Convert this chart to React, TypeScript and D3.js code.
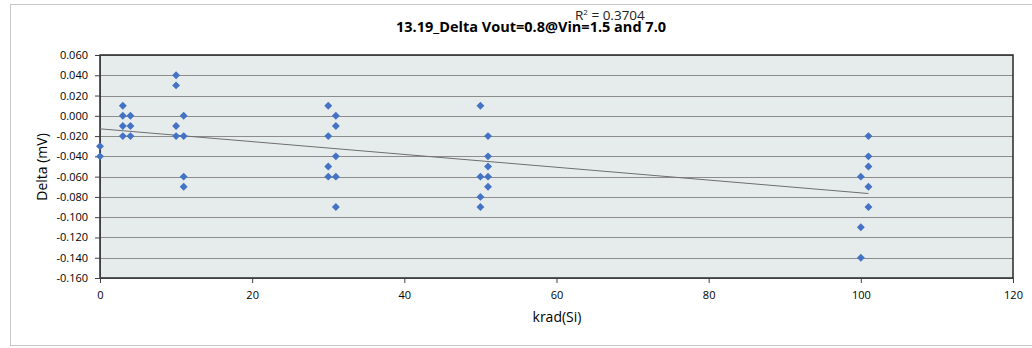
import React, { useEffect, useRef } from "react";
import * as d3 from "d3";

// krad(Si) dose levels and measured deltas (mV), one entry per sample
const doseX: number[] = [
  0, 0,
  3, 3, 3, 3,
  4, 4, 4,
  10, 10, 10, 10,
  11, 11, 11, 11,
  30, 30, 30, 30,
  31, 31, 31, 31, 31,
  50, 50, 50, 50,
  51, 51, 51, 51, 51,
  100, 100, 100,
  101, 101, 101, 101, 101,
];
const deltaY: number[] = [
  -0.03, -0.04,
  0.01, 0.0, -0.01, -0.02,
  0.0, -0.01, -0.02,
  0.04, 0.03, -0.01, -0.02,
  0.0, -0.02, -0.06, -0.07,
  0.01, -0.02, -0.05, -0.06,
  0.0, -0.01, -0.04, -0.06, -0.09,
  0.01, -0.06, -0.08, -0.09,
  -0.02, -0.04, -0.05, -0.06, -0.07,
  -0.06, -0.11, -0.14,
  -0.02, -0.04, -0.05, -0.07, -0.09,
];
const xTicks: number[] = [0, 20, 40, 60, 80, 100, 120];
const yTicks: number[] = [0.06, 0.04, 0.02, 0, -0.02, -0.04, -0.06, -0.08, -0.1, -0.12, -0.14, -0.16];

const title = "13.19_Delta Vout=0.8@Vin=1.5 and 7.0";
const rSquared = "0.3704";

const ScatterChart: React.FC = () => {
  const svgRef = useRef<SVGSVGElement | null>(null);

  useEffect(() => {
    const svg = d3.select(svgRef.current);
    const width = 1032;
    const height = 348;
    const margin = { top: 55, right: 19, bottom: 70, left: 100 };
    const font = "'Open Sans', 'Liberation Sans', sans-serif";

    svg.selectAll("*").remove();

    // outer chart frame
    svg
      .append("rect")
      .attr("x", 10.5)
      .attr("y", 4.5)
      .attr("width", 1040)
      .attr("height", 341)
      .attr("fill", "white")
      .attr("stroke", "#c8c8c8");

    const xScale = d3
      .scaleLinear()
      .domain([0, 120])
      .range([margin.left, width - margin.right]);

    const yScale = d3
      .scaleLinear()
      .domain([-0.16, 0.06])
      .range([height - margin.bottom, margin.top]);

    // plot background
    svg
      .append("rect")
      .attr("x", margin.left)
      .attr("y", margin.top)
      .attr("width", xScale(120) - margin.left)
      .attr("height", yScale(-0.16) - margin.top)
      .attr("fill", "#e6ecec");

    // gridlines
    svg
      .selectAll("line.grid")
      .data(yTicks)
      .join("line")
      .attr("class", "grid")
      .attr("x1", margin.left)
      .attr("x2", xScale(120))
      .attr("y1", (d) => Math.round(yScale(d)) + 0.5)
      .attr("y2", (d) => Math.round(yScale(d)) + 0.5)
      .attr("stroke", "#8c8c8c")
      .attr("stroke-width", 1);

    // plot border
    svg
      .append("rect")
      .attr("x", margin.left)
      .attr("y", margin.top)
      .attr("width", xScale(120) - margin.left)
      .attr("height", yScale(-0.16) - margin.top)
      .attr("fill", "none")
      .attr("stroke", "#262626")
      .attr("stroke-width", 1.5);

    // Y axis
    const yAxis = svg
      .append("g")
      .attr("transform", `translate(${margin.left},0)`)
      .call(
        d3
          .axisLeft(yScale)
          .tickValues(yTicks)
          .tickSize(5)
          .tickFormat((d) => d3.format(".3f")(d as number).replace("−", "-"))
      );
    yAxis.select(".domain").attr("stroke", "#404040");
    yAxis.selectAll(".tick line").attr("stroke", "#404040");
    yAxis
      .selectAll("text")
      .attr("x", -12)
      .attr("fill", "#000")
      .style("font-family", font)
      .style("font-size", "11px");

    // X axis
    const xAxis = svg
      .append("g")
      .attr("transform", `translate(0,${height - margin.bottom})`)
      .call(d3.axisBottom(xScale).tickValues(xTicks).tickSize(5));
    xAxis.select(".domain").attr("stroke", "#404040");
    xAxis.selectAll(".tick line").attr("stroke", "#404040");
    xAxis
      .selectAll("text")
      .attr("y", 13)
      .attr("fill", "#000")
      .style("font-family", font)
      .style("font-size", "11px");

    // trendline from least squares
    const mx = d3.mean(doseX)!;
    const my = d3.mean(deltaY)!;
    let sxy = 0;
    let sxx = 0;
    doseX.forEach((x, i) => {
      sxy += (x - mx) * (deltaY[i] - my);
      sxx += (x - mx) * (x - mx);
    });
    const slope = sxy / sxx;
    const intercept = my - slope * mx;
    const x0 = d3.min(doseX)!;
    const x1 = d3.max(doseX)!;

    svg
      .append("line")
      .attr("x1", xScale(x0))
      .attr("y1", yScale(intercept + slope * x0))
      .attr("x2", xScale(x1))
      .attr("y2", yScale(intercept + slope * x1))
      .attr("stroke", "#6e6e6e")
      .attr("stroke-width", 1);

    // diamond markers
    const diamond = d3.symbol().type(d3.symbolDiamond2).size(40);
    svg
      .selectAll("path.pt")
      .data(doseX.map((x, i) => ({ x, y: deltaY[i] })))
      .join("path")
      .attr("class", "pt")
      .attr("d", diamond)
      .attr("transform", (d) => `translate(${xScale(d.x)},${yScale(d.y)})`)
      .attr("fill", "#4472c4");

    // title and R²
    svg
      .append("text")
      .attr("x", 531)
      .attr("y", 32)
      .attr("text-anchor", "middle")
      .style("font-family", font)
      .style("font-weight", "bold")
      .style("font-size", "14.5px")
      .text(title);

    const r2 = svg
      .append("text")
      .attr("x", 575)
      .attr("y", 20)
      .style("font-family", font)
      .style("font-size", "13.5px")
      .attr("fill", "#222");
    r2.append("tspan").text("R");
    r2.append("tspan").attr("dy", -5).style("font-size", "8px").text("2");
    r2.append("tspan").attr("dy", 5).text(` = ${rSquared}`);

    // axis titles
    svg
      .append("text")
      .attr("x", 557)
      .attr("y", 322)
      .attr("text-anchor", "middle")
      .style("font-family", font)
      .style("font-size", "14px")
      .text("krad(Si)");

    svg
      .append("text")
      .attr("transform", "rotate(-90)")
      .attr("x", -167)
      .attr("y", 47)
      .attr("text-anchor", "middle")
      .style("font-family", font)
      .style("font-size", "14px")
      .text("Delta (mV)");

    svg.attr("width", width).attr("height", height);
  }, []);

  return (
    <div style={{ position: "fixed", left: 0, top: 0 }}>
      <svg ref={svgRef} style={{ display: "block" }}></svg>
    </div>
  );
};

export default function App() {
  return <ScatterChart />;
}
